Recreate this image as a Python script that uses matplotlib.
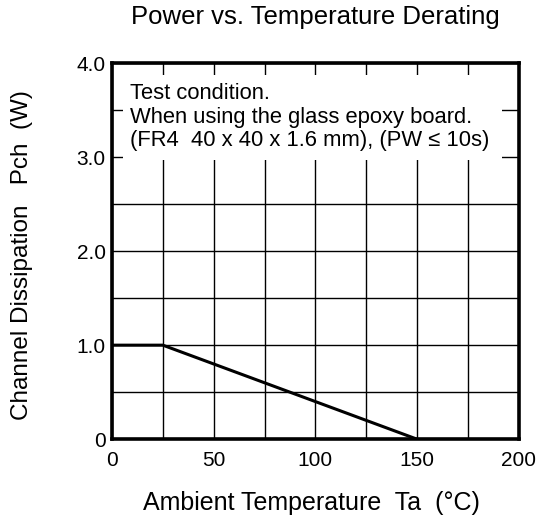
import matplotlib.pyplot as plt
from matplotlib.patches import Rectangle

plt.rcParams['font.family'] = ['Liberation Sans', 'DejaVu Sans']

# derating curve
temp = [0, 25, 150]
power = [1.0, 1.0, 0.0]

x_ticks = [0, 50, 100, 150, 200]
x_labels = ['0', '50', '100', '150', '200']
y_ticks = [0, 1, 2, 3, 4]
y_labels = ['0', '1.0', '2.0', '3.0', '4.0']

note_lines = ['Test condition.',
              'When using the glass epoxy board.',
              '(FR4  40 x 40 x 1.6 mm), (PW \u2264 10s)']

fig = plt.figure(figsize=(5.41, 5.21), dpi=100)
ax = fig.add_axes([0.207, 0.157, 0.752, 0.722])

ax.set_xlim(0, 200)
ax.set_ylim(0, 4)
ax.set_xticks(range(0, 201, 25), minor=True)
ax.set_yticks([i * 0.5 for i in range(9)], minor=True)
ax.set_xticks(x_ticks)
ax.set_xticklabels(x_labels)
ax.set_yticks(y_ticks)
ax.set_yticklabels(y_labels)
ax.grid(True, which='both', color='black', linewidth=1.0)
ax.tick_params(which='both', length=0, labelsize=15)
ax.tick_params(axis='x', pad=8.5)
ax.tick_params(axis='y', pad=4.5)

for s in ax.spines.values():
    s.set_linewidth(2.6)

ax.plot(temp, power, color='black', linewidth=2.2, zorder=5)

# white panel behind the test-condition note
ax.add_patch(Rectangle((0.027, 0.742), 0.931, 0.226, transform=ax.transAxes,
                       facecolor='white', edgecolor='none', zorder=3))
for i, line in enumerate(note_lines):
    ax.text(0.044, 0.904 - i * 0.0625, line, transform=ax.transAxes,
            fontsize=15.8, va='baseline', ha='left', zorder=4)

ax.set_title('Power vs. Temperature Derating', fontsize=18.5, pad=0,
             y=1.104, va='baseline')
ax.set_xlabel('Ambient Temperature  Ta  (\u00b0C)', fontsize=18)
ax.xaxis.label.set_va('baseline')
ax.xaxis.set_label_coords(0.49, -0.189)
ax.set_ylabel('Channel Dissipation   Pch  (W)', fontsize=17.5)
ax.yaxis.set_label_coords(-0.194, 0.49)

fig.savefig('out.png', dpi=100)
